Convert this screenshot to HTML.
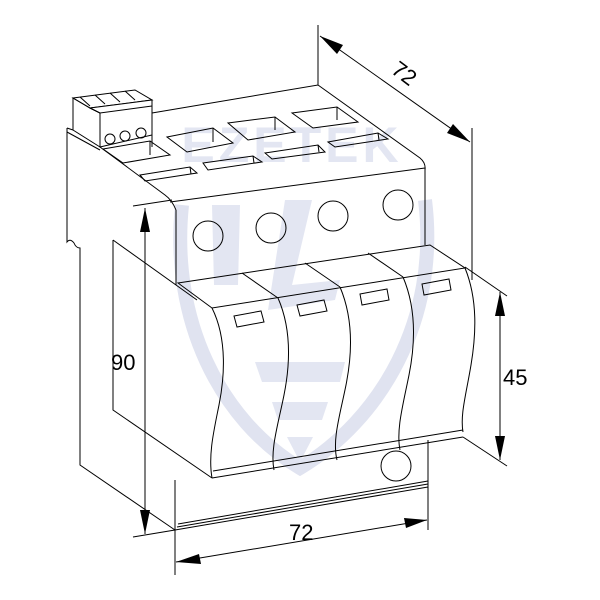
<!DOCTYPE html>
<html><head><meta charset="utf-8"><style>
html,body{margin:0;padding:0;background:#fff;}
svg{display:block;}
text{font-family:"Liberation Sans",sans-serif;}
</style></head><body>
<svg width="600" height="600" viewBox="0 0 600 600" xmlns="http://www.w3.org/2000/svg">
<!-- watermark -->
<g fill="none" stroke="#e0e3f0" stroke-width="14">
<path d="M182,205 C170,320 220,420 300,468 C380,420 440,320 425,200"/>
</g>
<g fill="#e3e6f2">
<polygon points="212,205 240,205 238,285 214,285"/>
<polygon points="285,200 312,200 292,285 340,280 335,300 268,310"/>
<polygon points="255,362 345,362 340,382 262,382"/>
<polygon points="272,402 328,402 322,420 278,420"/>
<polygon points="287,437 313,437 300,462"/>
</g>
<text x="292" y="162" font-size="50" font-weight="bold" fill="#e3e6f2" text-anchor="middle" letter-spacing="4">EZETEK</text>

<g fill="none" stroke="#000" stroke-width="1">
<!-- terminal block -->
<polygon points="73,98 135,90 152,100 90,108" fill="#fff"/>
<path d="M80,97 L90,106 M95,95 L105,104 M110,93 L120,102 M125,91 L135,100"/>
<polygon points="73,98 90,108 100,113 100,147 73,130"/>
<polygon points="90,108 152,100 152,135 100,147 100,113" fill="#fff"/>
<path d="M90,108 L100,113 L152,106"/>
<circle cx="110" cy="139" r="5"/><circle cx="125" cy="136" r="5"/><circle cx="141" cy="133" r="5"/>
<!-- top surface -->
<path d="M152,113 L318,85 L420,158 Q426,163 425,170"/>
<path d="M67,128 L73,130 M67,128 L67,242 Q70,238 74,243 Q76,248 80,248 L80,465 L175,530"/>
<path d="M67,132 L100,150 M100,147 L165,195 Q172,200 176,210"/>
<path d="M152,135 L152,147"/>
<!-- openings row 1 -->
<polygon points="103,149 150,141 170,155 123,163"/><path d="M150,141 L150,155"/>
<polygon points="167,137 213,128 233,143 187,152"/><path d="M213,128 L213,142"/>
<polygon points="228,123 275,117 295,132 248,140"/><path d="M275,117 L275,130"/>
<polygon points="292,113 337,107 358,122 313,128"/><path d="M337,107 L337,120"/>
<!-- openings row 2 -->
<polygon points="140,175 190,167 197,173 145,181"/><path d="M190,167 L191,174"/>
<polygon points="203,163 253,156 262,162 208,170"/><path d="M253,156 L254,163"/>
<polygon points="265,153 318,145 325,152 272,159"/><path d="M318,145 L319,152"/>
<polygon points="328,142 378,133 388,139 335,147"/><path d="M378,133 L379,140"/>
<!-- upper front face -->
<path d="M170,202 L425,168"/>
<path d="M176,210 L176,285"/>
<path d="M425,168 L425,245"/>
<circle cx="208" cy="236" r="15"/><circle cx="271" cy="228" r="15"/>
<circle cx="333" cy="216" r="15"/><circle cx="398" cy="205" r="15"/>
<!-- side inner line -->
<path d="M113,240 L113,410 L212,478"/>
<path d="M113,240 L197,300"/>
<!-- module tops -->
<path d="M178,283 L430,245 L465,268 L212,308 Z"/>
<path d="M242,273 L278,298 M305,263 L340,287 M368,253 L403,277"/>
<!-- module waves -->
<path d="M212,308 C228,340 224,380 219,405 C214,430 208,455 212,478"/>
<path d="M278,298 C292,330 290,365 284,395 C278,425 270,450 274,470"/>
<path d="M340,287 C354,320 352,355 346,385 C340,415 332,440 337,460"/>
<path d="M403,277 C417,310 415,345 409,375 C403,405 396,430 400,450"/>
<path d="M465,268 C478,300 476,335 471,365 C466,395 460,415 463,432"/>
<!-- module bottoms -->
<path d="M212,478 L463,437 M213,471 L463,430"/>
<!-- label windows -->
<polygon points="234,316 261,311 264,322 237,327"/>
<polygon points="297,305 324,300 327,311 300,316"/>
<polygon points="360,294 387,289 389,300 362,305"/>
<polygon points="422,284 449,279 451,290 424,295"/>
<!-- lower body -->
<path d="M175,480 L175,575"/>
<path d="M428,440 L428,530"/>
<circle cx="396" cy="466" r="15"/>
<path d="M175,530 L428,487 M177,527 L428,484 M178,524 L428,481"/>
<!-- dimension 72 top -->
<path d="M318,25 L318,85"/>
<path d="M472,128 L472,280"/>
<path d="M320,36 L470,142"/>
<!-- dim 90 -->
<path d="M133,206 L172,200"/>
<path d="M133,537 L175,530"/>
<path d="M145,208 L145,534"/>
<!-- dim 45 -->
<path d="M465,267 L507,296"/>
<path d="M463,437 L507,466"/>
<path d="M500,292 L500,460"/>
<!-- dim 72 bottom -->
<path d="M176,562 L427,520"/>
</g>
<g fill="#000">
<polygon points="320,36 343,45 337,54"/>
<polygon points="470,142 447,133 453,124"/>
<polygon points="145,208 140,232 150,232"/>
<polygon points="145,534 140,510 150,510"/>
<polygon points="500,292 495,316 505,316"/>
<polygon points="500,460 495,436 505,436"/>
<polygon points="176,562 199,554 201,564"/>
<polygon points="427,520 404,518 406,528"/>
</g>
<text x="0" y="0" font-size="22" fill="#000" transform="translate(390,72) rotate(37)">72</text>
<text x="111" y="370" font-size="22" fill="#000">90</text>
<text x="503" y="385" font-size="22" fill="#000">45</text>
<text x="289" y="540" font-size="22" fill="#000">72</text>
</svg>
</body></html>
